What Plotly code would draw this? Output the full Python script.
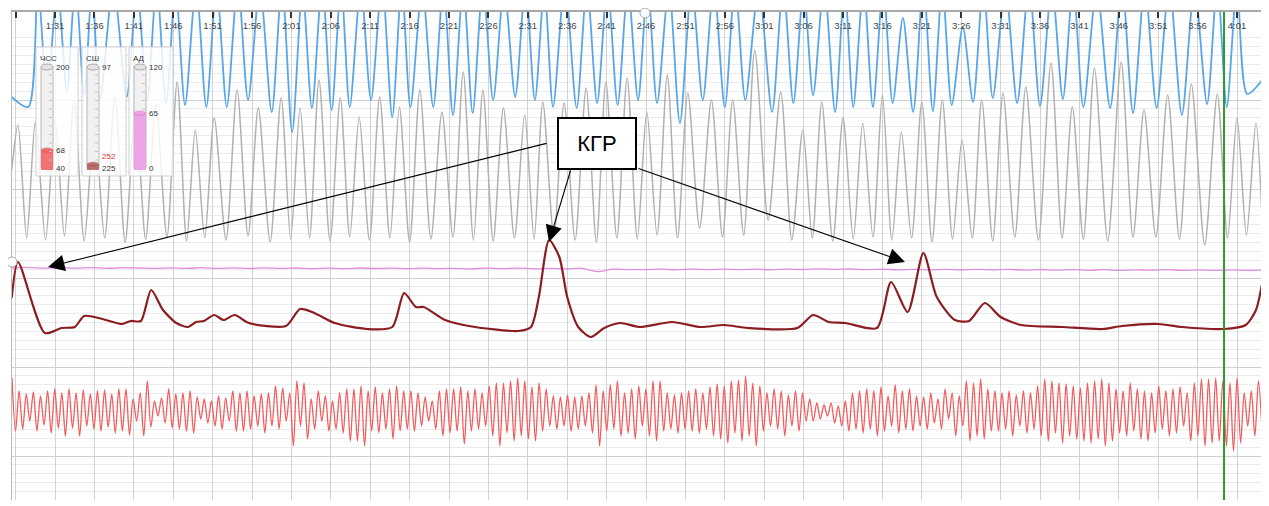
import numpy as np
import plotly.graph_objects as go

# ---------------- DATA ----------------
# time axis (seconds); ticks every 5 s, first one (1:26) unlabeled
tick_seconds = list(range(86, 242, 5))
tick_text = ["" if s == 86 else f"{s // 60}:{s % 60:02d}" for s in tick_seconds]
t_start, t_end = 85.54, 244.17

# blue channel: troughs and (mostly off-scale) peaks
blue_trough_t = [87.6, 90.0, 92.5, 94.7, 96.7, 100.1, 102.7, 105.1, 107.5, 110.2,
                 112.8, 115.5, 118.5, 121.1, 123.6, 126.1, 128.4, 131.1, 133.8, 136.1,
                 139.0, 141.5, 144.0, 146.6, 149.4, 151.9, 154.2, 157.2, 159.8, 162.4,
                 165.0, 167.4, 170.3, 173.2, 176.0, 178.6, 182.0, 184.7, 187.2, 190.0,
                 192.3, 194.8, 197.3, 199.9, 202.4, 204.8, 207.5, 210.0, 213.1, 216.0,
                 218.9, 221.5, 224.9, 227.8, 230.8, 234.0, 237.2, 239.7, 242.3]
blue_trough_v = [33, 45, 50, 45, 40, 43, 40, 37, 35, 33,
                 33, 40, 28, 8, 32, 30, 33, 40, 23, 33,
                 33, 25, 27, 40, 43, 40, 33, 32, 37, 35,
                 40, 37, 17, 40, 33, 40, 28, 37, 45, 28,
                 33, 33, 37, 28, 29, 35, 38, 42, 37, 34,
                 41, 33, 32, 27, 32, 25, 36, 33, 46]
blue_peak_t = [85.5, 88.8, 91.3, 93.6, 95.7, 98.4, 101.4, 103.9, 106.3, 108.9, 111.5,
               114.2, 117.0, 119.8, 122.4, 124.9, 127.3, 129.8, 132.5, 135.0, 137.6,
               140.3, 142.8, 145.3, 148.0, 150.7, 153.1, 155.7, 158.5, 161.1, 163.7,
               166.2, 168.9, 171.8, 174.6, 177.3, 180.3, 183.4, 186.0, 188.6, 191.2,
               193.6, 196.1, 198.6, 201.2, 203.6, 206.2, 208.8, 211.6, 214.6, 217.5,
               220.2, 223.2, 226.4, 229.3, 232.4, 235.6, 238.5, 241.0, 244.2]
blue_peak_v = [43, 155, 153, 157, 151, 155, 153, 156, 152, 155, 154,
               157, 153, 155, 151, 156, 154, 153, 157, 155, 152,
               155, 154, 156, 153, 155, 151, 157, 154, 155, 153,
               156, 152, 155, 154, 157, 153, 155, 151, 156, 154,
               155, 153, 122, 156, 154, 113, 155, 153, 157, 154,
               155, 152, 156, 154, 155, 153, 156, 154, 60]

# gray channel
gray_peak_t = [86.3, 88.5, 91.0, 93.4, 96.0, 98.6, 101.2, 103.8, 106.5, 108.8,
               111.2, 114.1, 116.8, 119.7, 122.1, 124.5, 127.2, 129.6, 132.2, 134.7,
               137.3, 140.1, 142.8, 145.3, 147.9, 150.6, 152.9, 155.6, 158.4, 160.9,
               163.6, 166.1, 168.7, 171.3, 174.3, 177.0, 179.8, 183.1, 185.9, 188.3,
               191.0, 193.5, 196.0, 198.4, 201.0, 203.6, 206.1, 208.6, 211.3, 214.2,
               217.4, 220.1, 222.9, 226.3, 229.2, 232.2, 235.2, 238.5, 241.0, 243.4]
gray_peak_v = [125, 128, 130, 150, 125, 153, 140, 145, 168, 120,
               132, 160, 142, 152, 142, 170, 152, 133, 153, 143,
               160, 138, 178, 160, 142, 135, 148, 147, 162, 168,
               172, 138, 175, 157, 150, 150, 200, 158, 120, 148,
               132, 127, 155, 118, 148, 150, 110, 150, 157, 163,
               187, 143, 182, 188, 140, 155, 166, 156, 132, 127]
gray_trough_t = [85.5, 87.4, 89.8, 92.2, 94.7, 97.3, 99.9, 102.5, 105.2, 107.7, 110.0,
                 112.7, 115.5, 118.3, 120.9, 123.3, 125.9, 128.4, 130.9, 133.5, 136.0,
                 138.7, 141.5, 144.1, 146.6, 149.3, 151.8, 154.3, 157.0, 159.7, 162.3,
                 164.9, 167.4, 170.0, 172.8, 175.7, 178.4, 181.5, 184.5, 187.1, 189.7,
                 192.3, 194.8, 197.2, 199.7, 202.3, 204.9, 207.4, 210.0, 212.8, 215.8,
                 218.8, 221.5, 224.6, 227.8, 230.7, 233.7, 236.9, 239.8, 242.2, 244.2]
gray_trough_v = [80, 12, 10, 14, 9, 12, 8, 11, 13, 9, 12,
                 10, 14, 8, 11, 12, 9, 13, 10, 12, 8,
                 11, 13, 10, 9, 12, 11, 14, 10, 8, 12,
                 11, 15, 12, 22, 13, 15, 30, 10, 12, 9,
                 11, 13, 10, 12, 8, 11, 12, 9, 13, 10,
                 12, 11, 9, 13, 13, 11, 5, 12, 15, 27]

# pink channel (nearly flat), evenly sampled
pink_v = [12.0, 12.6, 11.8, 12.5, 11.9, 12.4, 11.7, 12.3, 12.0, 11.6,
          12.2, 11.7, 12.3, 11.6, 12.1, 11.5, 12.2, 11.6, 12.0, 11.4,
          11.9, 11.3, 12.0, 11.5, 11.8, 11.3, 11.9, 11.4, 11.7, 11.2,
          11.8, 11.3, 11.9, 11.2, 11.6, 11.1, 11.7, 8.4, 10.8, 10.4,
          10.3, 10.8, 10.2, 10.9, 10.4, 10.9, 10.3, 10.8, 10.2, 10.9,
          10.5, 11.2, 10.6, 11.0, 10.4, 10.8, 10.2, 10.7, 10.1, 10.6,
          10.0, 10.7, 10.1, 10.6, 9.9, 10.5, 9.8, 10.4, 9.7, 10.3,
          9.6, 10.2, 9.8, 10.3, 9.7, 10.2, 9.6, 10.1, 9.7, 10.0]

# GSR (КГР) channel
gsr_t = [85.5, 86.3, 89.7, 91.8, 93.5, 94.7, 97.0, 99.5, 100.6, 101.9,
         103.2, 104.7, 106.4, 107.9, 108.9, 109.9, 111.2, 112.4, 113.8, 115.6,
         120.3, 122.1, 123.9, 126.5, 130.6, 133.8, 135.3, 136.8, 137.8, 140.5,
         143.5, 149.8, 151.4, 152.4, 153.7, 155.0, 156.0, 157.4, 159.0, 160.7,
         162.7, 165.2, 169.3, 172.9, 175.9, 178.9, 185.2, 187.2, 189.2, 191.3,
         195.3, 197.1, 199.2, 201.2, 202.9, 205.2, 207.0, 209.0, 211.0, 213.6,
         218.8, 223.9, 226.4, 231.0, 234.0, 239.3, 242.1, 243.4, 244.2]
gsr_v = [42, 78, 7, 12, 13, 24, 21, 16, 19, 19,
         50, 30, 17, 13, 18, 19, 25, 20, 25, 17,
         14, 31, 27, 17, 11, 13, 47, 33, 33, 20,
         14, 9, 13, 43, 100, 83, 43, 13, 3, 12,
         17, 13, 18, 13, 15, 12, 12, 25, 18, 17,
         12, 58, 28, 87, 43, 20, 19, 37, 23, 15,
         13, 11, 14, 16, 13, 11, 15, 30, 57]

# red fast channel: alternating peaks / troughs, evenly spaced
red_peaks = [33, 20, 17, 19, 15, 20, 22, 18, 22, 18, 21, 17, 20, 21, 17, 22,
             22, 12, 18, 30, 10, 13, 22, 17, 18, 20, 14, 12, 10, 15, 13, 20,
             18, 20, 15, 17, 18, 25, 23, 18, 30, 28, 12, 20, 15, 10, 18, 22,
             22, 25, 20, 24, 18, 22, 25, 20, 20, 18, 14, 10, 20, 22, 22, 24,
             20, 22, 18, 25, 28, 28, 30, 33, 30, 24, 28, 22, 15, 14, 16, 14,
             15, 18, 26, 20, 26, 30, 18, 22, 25, 22, 30, 30, 18, 16, 18, 20,
             22, 18, 24, 27, 25, 30, 31, 35, 28, 25, 18, 22, 20, 16, 20, 18,
             12, 8, 6, 8, 5, 10, 18, 20, 22, 20, 24, 15, 26, 20, 22, 15,
             14, 18, 12, 22, 18, 15, 30, 28, 32, 22, 20, 18, 20, 16, 20, 18,
             25, 32, 30, 28, 27, 25, 23, 28, 30, 32, 28, 22, 20, 28, 22, 20,
             18, 25, 20, 22, 24, 18, 28, 32, 32, 33, 30, 28, 33, 18, 20, 30]
red_troughs = [-20, -18, -10, -20, -14, -22, -17, -25, -17, -25, -15, -18, -20, -16, -22, -20,
               -24, -10, -25, -16, -5, -12, -17, -18, -20, -22, -8, -12, -15, -18, -10, -20,
               -20, -18, -15, -22, -15, -18, -10, -35, -15, -28, -18, -10, -20, -18, -22, -30,
               -30, -35, -20, -22, -18, -28, -20, -18, -20, -15, -10, -18, -25, -22, -20, -33,
               -20, -18, -15, -25, -35, -22, -30, -25, -28, -30, -20, -15, -18, -15, -20, -18,
               -15, -22, -35, -20, -18, -25, -22, -28, -15, -25, -30, -20, -18, -22, -18, -20,
               -22, -18, -25, -28, -32, -22, -30, -25, -35, -20, -15, -18, -25, -15, -20, -10,
               -10, -8, -5, -12, -15, -20, -18, -22, -18, -25, -20, -15, -22, -18, -20, -15,
               -18, -12, -18, -8, -25, -15, -30, -25, -28, -20, -20, -18, -25, -15, -22, -18,
               -25, -30, -22, -32, -25, -28, -30, -32, -28, -35, -30, -22, -25, -20, -28, -30,
               -22, -18, -25, -22, -15, -30, -25, -35, -32, -30, -35, -40, -32, -15, -25, -20]

marker_time = 239.35  # green cursor

# gauges
gauge_names = ["ЧСС", "СШ", "АД"]
gauge_top = [200, 97, 120]
gauge_bottom = [40, 225, 0]
gauge_values = [68, 252, 65]

# ---------------- LAYOUT HELPERS ----------------
# the page body adds an 8 px offset; the figure is sized so the plot area
# occupies window pixels x 12..1262 and y 12..500
BODY = 8
W, H = 1269 - BODY, 506 - BODY
PLOT_L, PLOT_R, PLOT_T, PLOT_B = 12, 1262, 12, 500
ML, MT = PLOT_L - BODY, PLOT_T - BODY
MR, MB = (W + BODY) - PLOT_R, (H + BODY) - PLOT_B
PW, PH = PLOT_R - PLOT_L, PLOT_B - PLOT_T


def X(px):
    return (px - PLOT_L) / PW


def Y(py):
    return (PLOT_B - py) / PH


def band_range(base_row):
    # channel value 0 sits at window row base_row, 1 unit per pixel
    return [base_row - PLOT_B, base_row - PLOT_T]


def merge(t1, v1, t2, v2):
    pts = sorted(zip(list(t1) + list(t2), list(v1) + list(v2)))
    return [p[0] for p in pts], [p[1] for p in pts]


blue_t, blue_v = merge(blue_trough_t, blue_trough_v, blue_peak_t, blue_peak_v)
gray_t, gray_v = merge(gray_trough_t, gray_trough_v, gray_peak_t, gray_peak_v)
pink_t = np.linspace(t_start, t_end, len(pink_v))
red_v = [v for pair in zip(red_peaks, red_troughs) for v in pair]
red_t = np.linspace(t_start, t_end, len(red_v))

fig = go.Figure()
# anchor trace for the base (grid) axes
fig.add_trace(go.Scatter(x=[t_start, t_end], y=[0, 0], mode="lines",
                         line=dict(width=0, color="rgba(0,0,0,0)"), hoverinfo="skip"))
fig.add_trace(go.Scatter(x=blue_t, y=blue_v, yaxis="y2", mode="lines",
                         line=dict(color="#58a6ea", width=1.8, shape="spline", smoothing=0.8)))
fig.add_trace(go.Scatter(x=gray_t, y=gray_v, yaxis="y3", mode="lines",
                         line=dict(color="#b0b0b0", width=1.5, shape="spline", smoothing=0.8)))
fig.add_trace(go.Scatter(x=pink_t, y=pink_v, yaxis="y4", mode="lines",
                         line=dict(color="#e08ce0", width=1.3, shape="spline")))
fig.add_trace(go.Scatter(x=gsr_t, y=gsr_v, yaxis="y5", mode="lines",
                         line=dict(color="#8b1c1f", width=2.2, shape="spline", smoothing=0.7)))
fig.add_trace(go.Scatter(x=red_t, y=red_v, yaxis="y6", mode="lines",
                         line=dict(color="#f25c5c", width=1.3, shape="spline", smoothing=0.9)))

shapes = []
annotations = []

# green cursor
shapes.append(dict(type="line", xref="x", yref="paper", x0=marker_time, x1=marker_time,
                   y0=0, y1=1, line=dict(color="#2f9a2f", width=2), layer="above"))

# small handles
for cx, cy in [(645, 13), (12, 262)]:
    shapes.append(dict(type="circle", xref="paper", yref="paper",
                       x0=X(cx - 5), x1=X(cx + 5), y0=Y(cy + 5), y1=Y(cy - 5),
                       line=dict(color="#aaaaaa", width=1), fillcolor="white", layer="above"))

# gauge panels
panel_x = [(36, 78), (82, 126), (129, 173)]
fill_cols = ["rgba(238,95,95,0.85)", "rgba(175,95,95,0.85)", "rgba(236,150,232,0.85)"]
val_cols = ["#333333", "#e83030", "#333333"]
tube_top, tube_bot = 67, 168
for i, (x0, x1) in enumerate(panel_x):
    shapes.append(dict(type="rect", xref="paper", yref="paper", x0=X(x0), x1=X(x1),
                       y0=Y(176), y1=Y(47), fillcolor="rgba(255,255,255,0.82)",
                       line=dict(color="#cfcfcf", width=1), layer="above"))
    tl, tr = x0 + 5, x0 + 17
    shapes.append(dict(type="rect", xref="paper", yref="paper", x0=X(tl), x1=X(tr),
                       y0=Y(tube_bot), y1=Y(tube_top), fillcolor="#f1f1f1",
                       line=dict(color="#b8b8b8", width=1), layer="above"))
    frac = (gauge_values[i] - gauge_bottom[i]) / (gauge_top[i] - gauge_bottom[i])
    frac = min(max(frac, 0.035), 1)
    ftop = tube_bot - frac * (tube_bot - tube_top)
    shapes.append(dict(type="rect", xref="paper", yref="paper", x0=X(tl), x1=X(tr),
                       y0=Y(tube_bot + 2), y1=Y(ftop), fillcolor=fill_cols[i],
                       line=dict(width=0), layer="above"))
    shapes.append(dict(type="circle", xref="paper", yref="paper", x0=X(tl), x1=X(tr),
                       y0=Y(ftop + 2.5), y1=Y(ftop - 2.5), fillcolor=fill_cols[i],
                       line=dict(color="rgba(200,80,80,0.4)", width=0.5), layer="above"))
    shapes.append(dict(type="circle", xref="paper", yref="paper", x0=X(tl), x1=X(tr),
                       y0=Y(tube_top + 3), y1=Y(tube_top - 3), fillcolor="#e4e4e4",
                       line=dict(color="#a8a8a8", width=1), layer="above"))
    for k in range(11):
        yy = tube_top + 8 + k * 8.5
        shapes.append(dict(type="line", xref="paper", yref="paper", x0=X(tr - 4), x1=X(tr - 1),
                           y0=Y(yy), y1=Y(yy), line=dict(color="#c4c4c4", width=1), layer="above"))
    annotations.append(dict(xref="paper", yref="paper", x=X(x0 + 2), y=Y(58), text=gauge_names[i],
                            showarrow=False, xanchor="left", yanchor="middle",
                            font=dict(size=8, color="#333")))
    annotations.append(dict(xref="paper", yref="paper", x=X(tr + 1), y=Y(tube_top), text=str(gauge_top[i]),
                            showarrow=False, xanchor="left", yanchor="middle",
                            font=dict(size=8, color="#333")))
    annotations.append(dict(xref="paper", yref="paper", x=X(tr + 1), y=Y(tube_bot), text=str(gauge_bottom[i]),
                            showarrow=False, xanchor="left", yanchor="middle",
                            font=dict(size=8, color="#333")))
    annotations.append(dict(xref="paper", yref="paper", x=X(tr + 1), y=Y(min(ftop, tube_bot - 11)),
                            text=str(gauge_values[i]), showarrow=False, xanchor="left", yanchor="middle",
                            font=dict(size=8, color=val_cols[i])))

# КГР callout
annotations.append(dict(xref="paper", yref="paper", x=X(597), y=Y(143), text="КГР", showarrow=False,
                        xanchor="center", yanchor="middle", font=dict(size=22, color="black"),
                        bgcolor="white", bordercolor="black", borderwidth=2, width=74, height=47))
for (tail, tip) in [((548, 143), (48, 267)), ((571, 169), (549, 242)), ((637, 168), (905, 262))]:
    annotations.append(dict(xref="paper", yref="paper", x=X(tip[0]), y=Y(tip[1]),
                            ax=tail[0] - tip[0], ay=tail[1] - tip[1], axref="pixel", ayref="pixel",
                            text="", showarrow=True, arrowhead=2, arrowsize=3.0, arrowwidth=1.1,
                            arrowcolor="black", standoff=0, startstandoff=0))

hidden = dict(overlaying="y", visible=False, fixedrange=True)
fig.update_layout(
    width=W, height=H,
    margin=dict(l=ML, r=MR, t=MT, b=MB, autoexpand=False),
    paper_bgcolor="white", plot_bgcolor="white",
    showlegend=False,
    font=dict(family="Liberation Sans, Arial, sans-serif"),
    xaxis=dict(range=[t_start, t_end], side="top", tickvals=tick_seconds, ticktext=tick_text,
               ticks="inside", ticklen=6, tickwidth=2, tickcolor="#333",
               ticklabelposition="inside", ticklabelstandoff=4,
               tickfont=dict(size=9.5, color="#444"),
               showgrid=True, gridcolor="#d3d3d3", gridwidth=1, automargin=False,
               showline=True, linecolor="#a8a8a8", linewidth=1.5, zeroline=False),
    yaxis=dict(range=[-44, 444], showticklabels=False, ticks="", tick0=0, dtick=89,
               showgrid=True, gridcolor="#d0d0d0", gridwidth=1, zeroline=False, automargin=False,
               minor=dict(dtick=8.9, showgrid=True, gridcolor="#ebebeb", gridwidth=1),
               showline=True, linecolor="#bbbbbb", linewidth=1),
    yaxis2=dict(range=band_range(140), **hidden),
    yaxis3=dict(range=band_range(250), **hidden),
    yaxis4=dict(range=band_range(280), **hidden),
    yaxis5=dict(range=band_range(340), **hidden),
    yaxis6=dict(range=band_range(411), **hidden),
    shapes=shapes,
    annotations=annotations,
)

fig.write_html("out.html")
